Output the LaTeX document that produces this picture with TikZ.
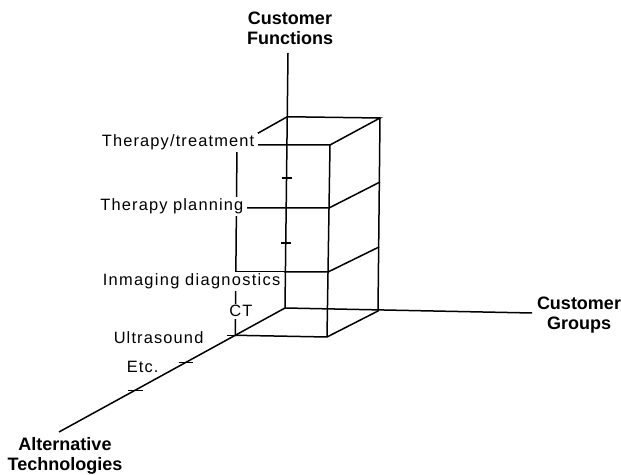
\documentclass[tikz,border=0pt]{standalone}
\usepackage{fontspec}
\setmainfont{Liberation Sans}
\newfontfamily\itemfont[LetterSpace=7]{Liberation Sans}
\newfontfamily\wideitemfont[LetterSpace=8]{Liberation Sans}
\usetikzlibrary{positioning,calc}
\tikzstyle{axislabel} = [font=\fontsize{9}{10}\selectfont\bfseries, align=center, inner sep=1pt]
\tikzstyle{itemlabel} = [font=\fontsize{8.2}{9.5}\selectfont\itemfont, fill=white, inner xsep=2pt, inner ysep=1pt]
\tikzstyle{corner} = [coordinate]

\begin{document}
\begin{tikzpicture}[x=0.5pt, y=-0.5pt, line width=0.75pt]
    \useasboundingbox (0,0) rectangle (621,475);

    % axes
    \coordinate (origin) at (285,308);
    \coordinate (fnend) at (288,53);
    \coordinate (grend) at (532,313);
    \coordinate (tcend) at (59,432);

    % corners of the box
    \node[corner] (btl) at ($(origin)!0.75!(fnend)$) {};
    \node[corner] (btr) at (380,118) {};
    \node[corner] (bbr) at (378,311) {};
    \node[corner] (ftl) at (237,145) {};
    \node[corner] (ftr) at (330,145) {};
    \node[corner] (fbr) at (327,337) {};
    \node[corner] (fbl) at ($(origin)!0.22!(tcend)$) {};
    \node[corner] (fl1) at (237,208) {};
    \node[corner] (fr1) at (329,208) {};
    \node[corner] (br1) at (380,182) {};
    \node[corner] (fl2) at (236,272) {};
    \node[corner] (fr2) at (328,272) {};
    \node[corner] (br2) at (379,247) {};

    % ticks
    \node[corner] (tf1) at ($(origin)!0.51!(fnend)$) {};
    \node[corner] (tf2) at ($(origin)!0.255!(fnend)$) {};
    \node[corner] (tus) at ($(origin)!0.44!(tcend)$) {};
    \node[corner] (tetc) at ($(origin)!0.665!(tcend)$) {};

    \draw (origin) -- (fnend);
    \draw (origin) -- (grend);
    \draw (origin) -- (tcend);

    \draw (btl) -- (btr) -- (ftr) -- (ftl) -- cycle;
    \draw (ftl) -- (fbl) -- (fbr) -- (bbr) -- (btr);
    \draw (ftr) -- (fbr);
    \draw (fl1) -- (fr1) -- (br1);
    \draw (fl2) -- (fr2) -- (br2);

    \draw ($(tf1)+(-5,0)$) -- ++(10,0);
    \draw ($(tf2)+(-5,0)$) -- ++(10,0);
    \draw ($(fbl)+(-8,0)$) -- ++(10,0);
    \draw ($(tus)+(-7,0)$) -- ++(14,0);
    \draw ($(tetc)+(-7,0)$) -- ++(15,0);

    % labels
    \node[axislabel] (functions) at (290,28) {Customer\\Functions};
    \node[axislabel] (groups) at (579,315) {Customer\\Groups};
    \node[axislabel] (technologies) at (65,456) {Alternative\\Technologies};

    \node[itemlabel, anchor=base east] (treatment) at (259,147) {Therapy/treatment};
    \node[itemlabel, anchor=base east] (planning) at (248,211) {Therapy planning};
    \node[itemlabel, anchor=base west, font=\fontsize{8.2}{9.5}\selectfont\wideitemfont] (diagnostics) at (98,286) {Inmaging diagnostics};
    \node[itemlabel, anchor=base] (ct) at (241,317) {CT};
    \node[itemlabel, anchor=base west] (ultrasound) at (109,344) {Ultrasound};
    \node[itemlabel, anchor=base west] (etc) at (122,373) {Etc.};
\end{tikzpicture}
\end{document}
